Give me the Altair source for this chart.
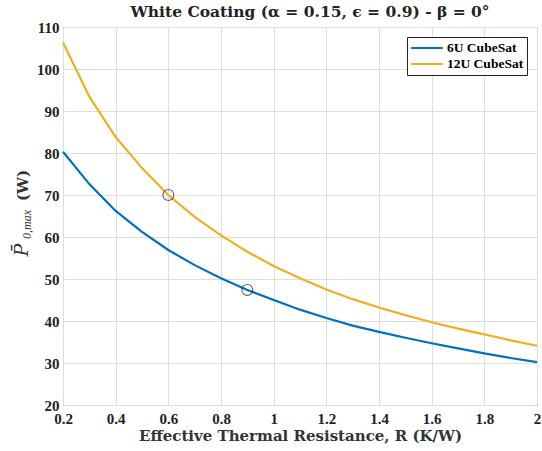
import altair as alt
import pandas as pd

R = [0.2, 0.3, 0.4, 0.5, 0.6, 0.7, 0.8, 0.9, 1.0, 1.1, 1.2, 1.3, 1.4, 1.5, 1.6, 1.7, 1.8, 1.9, 2.0]
p_6u = [80.3, 72.6, 66.2, 61.2, 56.9, 53.3, 50.2, 47.4, 45.0, 42.7, 40.7, 38.9, 37.4, 36.0, 34.7, 33.5, 32.3, 31.2, 30.2]
p_12u = [106.3, 93.4, 83.8, 76.4, 70.0, 64.8, 60.4, 56.5, 53.1, 50.2, 47.5, 45.2, 43.2, 41.4, 39.7, 38.2, 36.8, 35.4, 34.1]
series = ["6U CubeSat", "12U CubeSat"]
colors = ["#0072BD", "#EDB120"]
mark_R = [0.6, 0.9]
mark_P = [70.0, 47.4]
x_ticks = [0.2, 0.4, 0.6, 0.8, 1.0, 1.2, 1.4, 1.6, 1.8, 2.0]

rows = []
for r, a, b in zip(R, p_6u, p_12u):
    rows.append({"R": r, "P": a, "s": series[0]})
    rows.append({"R": r, "P": b, "s": series[1]})
df = pd.DataFrame(rows)
dm = pd.DataFrame({"R": mark_R, "P": mark_P})

FONT = "Liberation Serif"
WIDE = "DejaVu Serif"

x = alt.X("R:Q", scale=alt.Scale(domain=[0.2, 2.0], nice=False),
          axis=alt.Axis(values=x_ticks, format="~g",
                        title="Effective Thermal Resistance, R (K/W)"))
y = alt.Y("P:Q", scale=alt.Scale(domain=[20, 110], nice=False),
          axis=alt.Axis(values=list(range(20, 111, 10)), title=None))

lines = alt.Chart(df).mark_line(strokeWidth=2.2).encode(
    x=x, y=y,
    color=alt.Color("s:N", scale=alt.Scale(domain=series, range=colors),
                    sort=series,
                    legend=alt.Legend(title=None, orient="none", legendX=344, legendY=10,
                                      symbolType="stroke", symbolSize=1000,
                                      symbolStrokeWidth=2.2, clipHeight=16,
                                      labelFont=FONT, labelFontSize=13.5, labelFontWeight="bold",
                                      labelColor="black", labelOffset=3,
                                      strokeColor="#222222", fillColor="white",
                                      padding=3, rowPadding=0, cornerRadius=0)),
)

pts = alt.Chart(dm).mark_point(shape="circle", filled=False, color="#222222",
                               size=120, strokeWidth=1.1).encode(x="R:Q", y="P:Q")

one = pd.DataFrame({"k": [0]})
ylab_p = alt.Chart(one).mark_text(text="P\u0304", font=WIDE, fontStyle="italic", fontSize=19,
                                  angle=270, align="center", baseline="alphabetic",
                                  color="#333333").encode(x=alt.value(-35), y=alt.value(223))
ylab_sub = alt.Chart(one).mark_text(text="0,max", font=FONT, fontStyle="italic", fontSize=12,
                                    angle=270, align="left", baseline="alphabetic",
                                    color="#333333").encode(x=alt.value(-32), y=alt.value(212))
ylab_w = alt.Chart(one).mark_text(text="(W)", font=WIDE, fontWeight="bold", fontSize=15,
                                  angle=270, align="left", baseline="alphabetic",
                                  color="#333333").encode(x=alt.value(-35), y=alt.value(174))

chart = (lines + pts + ylab_p + ylab_sub + ylab_w).properties(
    width=474, height=378,
    title=alt.Title("White Coating (α = 0.15, ϵ = 0.9) - β = 0°",
                    font=WIDE, fontSize=15.5, fontWeight="bold", color="#222222",
                    anchor="middle", offset=0, dx=10),
    autosize=alt.AutoSizeParams(type="none"),
    padding={"left": 63, "top": 27, "right": 5, "bottom": 46},
).configure_view(stroke="#222222", strokeWidth=1).configure_axis(
    labelFont=FONT, labelFontSize=15, labelFontWeight="bold", labelColor="#222222",
    titleFont=WIDE, titleFontSize=15, titleFontWeight="bold", titleColor="#333333",
    gridColor="#dddddd", gridWidth=1, domain=False, ticks=False, labelPadding=4,
    labelFlush=False,
).configure_axisX(titlePadding=2, labelPadding=6)

chart.save("out.html", embed_options={"renderer": "svg", "actions": False})
